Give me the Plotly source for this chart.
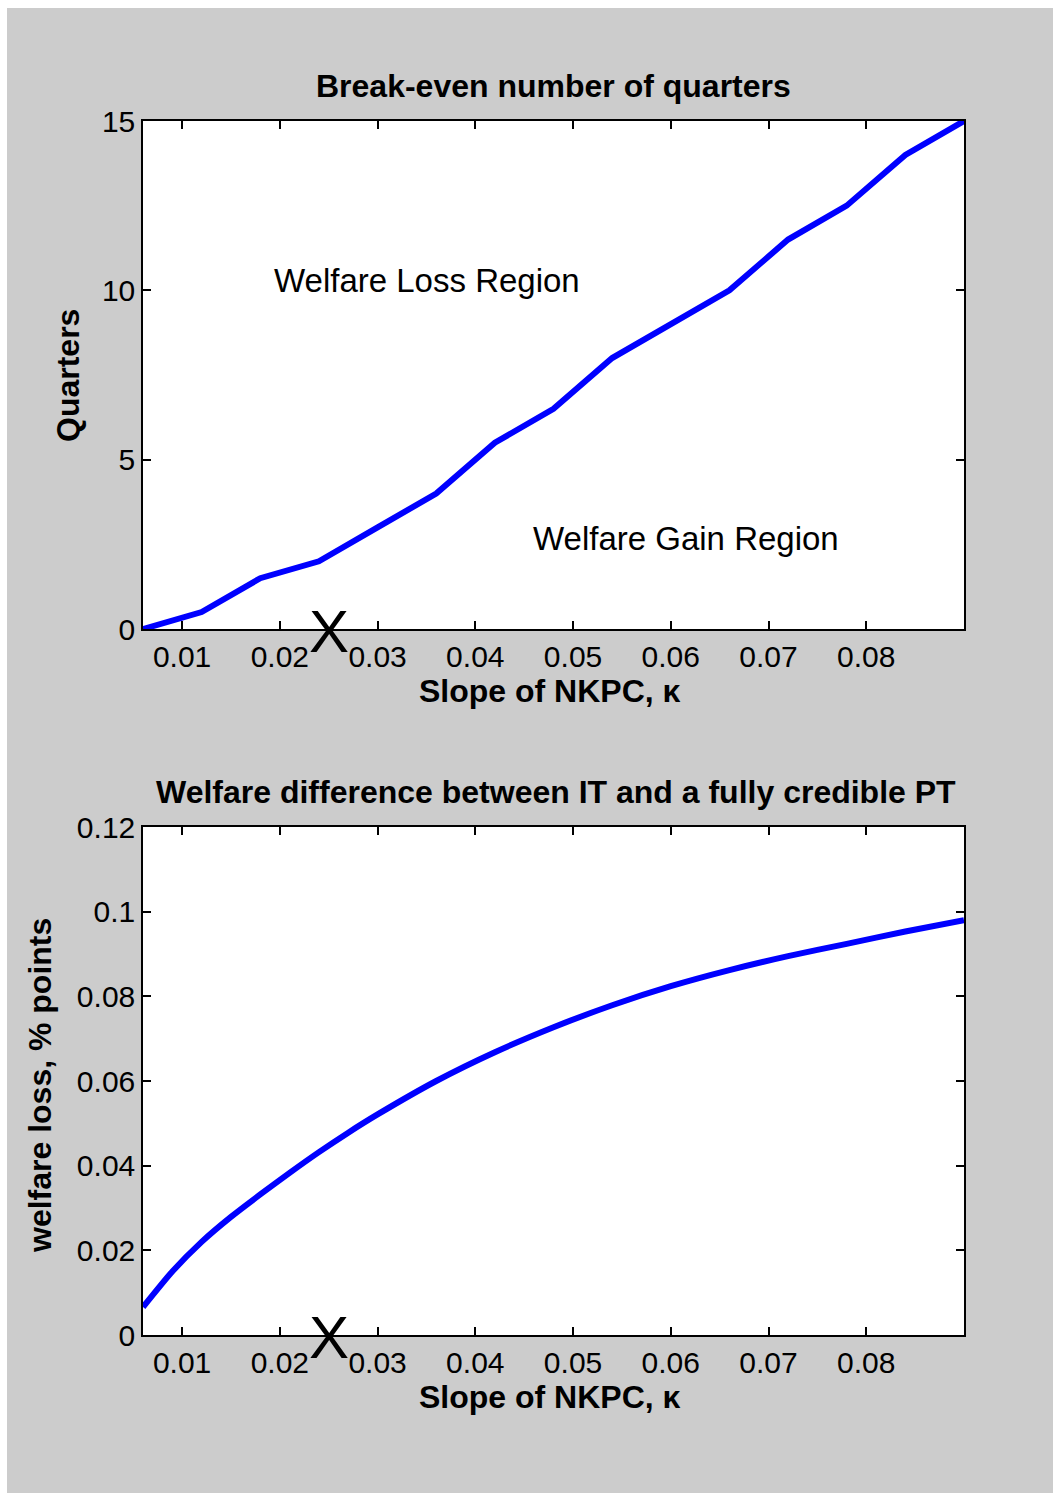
import plotly.graph_objects as go
from plotly.subplots import make_subplots

# data
kappa = [0.006, 0.012, 0.018, 0.024, 0.030, 0.036, 0.042, 0.048,
         0.054, 0.060, 0.066, 0.072, 0.078, 0.084, 0.090]
quarters = [0, 0.5, 1.5, 2, 3, 4, 5.5, 6.5, 8, 9, 10, 11.5, 12.5, 14, 15]

kappa_w = [0.006, 0.009, 0.012, 0.015, 0.018, 0.021, 0.024, 0.027, 0.030, 0.036,
           0.042, 0.048, 0.054, 0.060, 0.066, 0.072, 0.078, 0.084, 0.090]
welfare_loss = [0.0066, 0.0150, 0.0220, 0.0279, 0.0332, 0.0383, 0.0432, 0.0478, 0.0521,
                0.0600, 0.0668, 0.0727, 0.0779, 0.0824, 0.0862, 0.0895, 0.0924,
                0.0953, 0.0980]

x_ticks = [0.01, 0.02, 0.03, 0.04, 0.05, 0.06, 0.07, 0.08]
x_ticktext = ["0.01", "0.02", "0.03", "0.04", "0.05", "0.06", "0.07", "0.08"]
q_ticks = [0, 5, 10, 15]
w_ticks = [0, 0.02, 0.04, 0.06, 0.08, 0.1, 0.12]
w_ticktext = ["0", "0.02", "0.04", "0.06", "0.08", "0.1", "0.12"]
marker_kappa = 0.025

W, H = 1053, 1493
FONT = "Liberation Sans, Arial, sans-serif"
GRAY = "#cccccc"


def px_x(p):
    return p / W


def px_y(p):
    return 1 - p / H


fig = make_subplots(rows=2, cols=1)

fig.add_trace(go.Scatter(x=kappa, y=quarters, mode="lines",
                         line=dict(color="#0000ff", width=6),
                         showlegend=False), row=1, col=1)
fig.add_trace(go.Scatter(x=kappa_w, y=welfare_loss, mode="lines",
                         line=dict(color="#0000ff", width=6, shape="spline", smoothing=0.6),
                         showlegend=False), row=2, col=1)

axis_common = dict(
    showline=True, linecolor="black", linewidth=1.5, mirror="ticks",
    ticks="inside", ticklen=8, tickwidth=1.5, tickcolor="black",
    showgrid=False, zeroline=False, automargin=False,
    tickfont=dict(family=FONT, size=30, color="black"),
)

xdom = [px_x(143), px_x(964)]
fig.update_xaxes(range=[0.006, 0.09], tickvals=x_ticks, ticktext=x_ticktext,
                 domain=xdom, **axis_common)
fig.update_yaxes(range=[0, 15], tickvals=q_ticks, domain=[px_y(629), px_y(121)],
                 row=1, col=1, **axis_common)
fig.update_yaxes(range=[0, 0.12], tickvals=w_ticks, ticktext=w_ticktext,
                 domain=[px_y(1335), px_y(827)], row=2, col=1, **axis_common)

bold = dict(family=FONT, size=32, color="black", weight="bold")
texts = [
    ("Break-even number of quarters", 553, 86, 0),
    ("Slope of NKPC, κ", 550, 691, 0),
    ("Quarters", 68, 376, -90),
    ("Welfare difference between IT and a fully credible PT", 556, 792, 0),
    ("Slope of NKPC, κ", 550, 1397, 0),
    ("welfare loss, % points", 40, 1086, -90),
]
for txt, x, y, ang in texts:
    fig.add_annotation(text=txt, xref="paper", yref="paper",
                       x=px_x(x), y=px_y(y), showarrow=False,
                       textangle=ang, font=bold,
                       xanchor="center", yanchor="middle")

region_font = dict(family=FONT, size=33, color="black")
fig.add_annotation(text="Welfare Loss Region", xref="paper", yref="paper",
                   x=px_x(427), y=px_y(281), showarrow=False, font=region_font,
                   xanchor="center", yanchor="middle")
fig.add_annotation(text="Welfare Gain Region", xref="paper", yref="paper",
                   x=px_x(686), y=px_y(538), showarrow=False, font=region_font,
                   xanchor="center", yanchor="middle")

for r, ax in [(1, "y"), (2, "y2")]:
    fig.add_annotation(text="X", x=marker_kappa, y=0,
                       xref="x" if r == 1 else "x2", yref=ax,
                       showarrow=False, yshift=-2,
                       font=dict(family=FONT, size=60, color="black"))

# thin white edge at the top and left of the gray figure
fig.add_shape(type="rect", xref="paper", yref="paper",
              x0=-0.01, x1=1.01, y0=px_y(8), y1=1.01,
              fillcolor="white", line=dict(width=0), layer="below")
fig.add_shape(type="rect", xref="paper", yref="paper",
              x0=-0.01, x1=px_x(7), y0=-0.01, y1=1.01,
              fillcolor="white", line=dict(width=0), layer="below")

fig.update_layout(
    width=W, height=H,
    margin=dict(l=0, r=0, t=0, b=0),
    paper_bgcolor=GRAY,
    plot_bgcolor="white",
    font=dict(family=FONT, color="black"),
)

fig.write_html("out.html", config={"displayModeBar": False},
               post_script="document.body.style.margin = '0px';")
